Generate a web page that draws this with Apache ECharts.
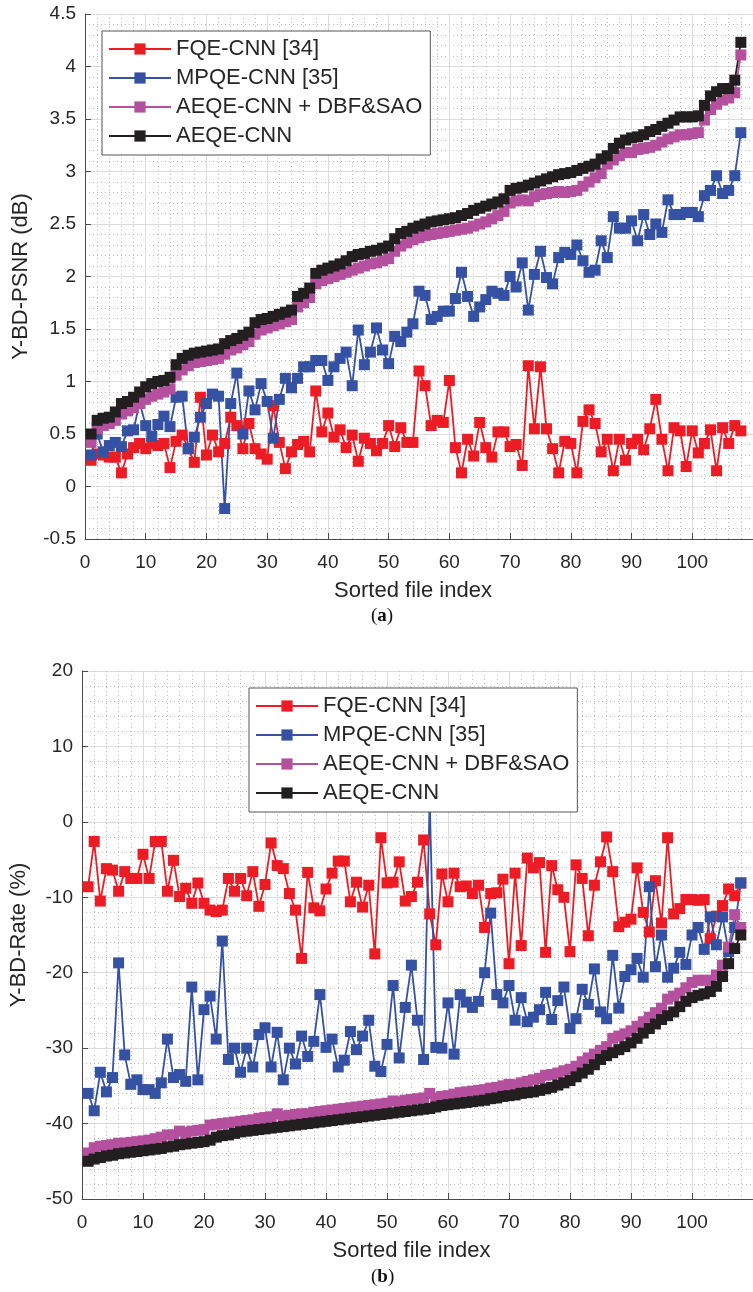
<!DOCTYPE html>
<html>
<head>
<meta charset="utf-8">
<script src="https://cdn.jsdelivr.net/npm/echarts@6/dist/echarts.min.js"></script>
<style>
  html, body { margin: 0; padding: 0; background: #ffffff; }
  #chart { width: 753px; height: 1292px; }
</style>
</head>
<body>
<div id="chart"></div>
<script>
// Series names (shared by both panels)
const seriesNames = ['FQE-CNN [34]', 'MPQE-CNN [35]', 'AEQE-CNN + DBF&SAO', 'AEQE-CNN'];

// (a) Y-BD-PSNR (dB) per sorted file index 1..108
const fqePsnr = [
  0.25,0.31,0.30,0.28,0.28,0.13,0.31,0.37,0.41,0.36,
  0.41,0.39,0.41,0.18,0.43,0.49,0.36,0.23,0.85,0.30,
  0.49,0.33,0.41,0.66,0.58,0.36,0.60,0.36,0.31,0.26,
  0.77,0.42,0.17,0.33,0.40,0.43,0.33,0.91,0.52,0.70,
  0.47,0.54,0.37,0.49,0.24,0.46,0.41,0.34,0.41,0.58,
  0.38,0.56,0.42,0.42,1.10,0.96,0.58,0.63,0.61,1.01,
  0.37,0.13,0.45,0.29,0.61,0.37,0.28,0.52,0.52,0.38,
  0.40,0.20,1.15,0.55,1.14,0.55,0.36,0.13,0.43,0.41,
  0.13,0.62,0.73,0.60,0.33,0.45,0.15,0.45,0.25,0.41,
  0.45,0.35,0.55,0.83,0.45,0.15,0.56,0.53,0.19,0.53,
  0.32,0.41,0.54,0.15,0.56,0.41,0.58,0.53
];
const mpqePsnr = [
  0.30,0.50,0.33,0.39,0.42,0.38,0.53,0.54,0.80,0.58,
  0.48,0.59,0.67,0.57,0.85,0.86,0.36,0.47,0.66,0.79,
  0.88,0.86,-0.21,0.79,1.08,0.50,0.91,0.73,0.98,0.81,
  0.46,0.83,1.03,0.94,1.03,1.14,1.14,1.20,1.20,1.01,
  1.14,1.22,1.28,0.96,1.49,1.16,1.28,1.51,1.30,1.17,
  1.43,1.38,1.47,1.55,1.86,1.82,1.59,1.62,1.67,1.67,
  1.79,2.04,1.81,1.62,1.71,1.78,1.86,1.84,1.82,2.00,
  1.90,2.13,1.68,2.02,2.24,1.99,1.93,2.18,2.23,2.21,
  2.30,2.15,2.04,2.06,2.34,2.18,2.57,2.46,2.46,2.53,
  2.34,2.59,2.40,2.50,2.42,2.73,2.59,2.59,2.61,2.61,
  2.57,2.77,2.82,2.96,2.79,2.82,2.96,3.37
];
const aeqeDbfPsnr = [
  0.42,0.55,0.58,0.60,0.63,0.69,0.72,0.75,0.79,0.83,
  0.86,0.88,0.90,0.93,1.06,1.11,1.15,1.18,1.19,1.20,
  1.21,1.22,1.26,1.30,1.32,1.35,1.38,1.45,1.49,1.51,
  1.53,1.55,1.57,1.59,1.71,1.75,1.80,1.93,1.96,1.98,
  2.00,2.02,2.04,2.06,2.08,2.10,2.12,2.13,2.15,2.17,
  2.24,2.29,2.32,2.35,2.37,2.39,2.40,2.41,2.42,2.43,
  2.44,2.45,2.46,2.48,2.50,2.52,2.55,2.58,2.62,2.70,
  2.72,2.73,2.72,2.76,2.78,2.79,2.80,2.81,2.80,2.81,
  2.82,2.86,2.90,2.94,2.98,3.07,3.11,3.15,3.18,3.18,
  3.21,3.22,3.23,3.25,3.28,3.31,3.33,3.35,3.35,3.36,
  3.37,3.49,3.59,3.64,3.68,3.70,3.75,4.11
];
const aeqePsnr = [
  0.50,0.63,0.65,0.66,0.71,0.79,0.81,0.85,0.90,0.95,
  0.98,1.00,1.01,1.04,1.16,1.22,1.25,1.27,1.28,1.29,
  1.30,1.31,1.36,1.39,1.41,1.44,1.47,1.56,1.59,1.60,
  1.62,1.64,1.66,1.68,1.81,1.84,1.89,2.03,2.06,2.08,
  2.10,2.12,2.15,2.19,2.21,2.22,2.24,2.25,2.27,2.29,
  2.36,2.41,2.43,2.46,2.48,2.50,2.52,2.53,2.54,2.55,
  2.56,2.58,2.60,2.63,2.65,2.67,2.69,2.71,2.74,2.82,
  2.84,2.85,2.87,2.89,2.91,2.93,2.95,2.97,2.98,2.99,
  3.01,3.03,3.05,3.07,3.12,3.15,3.22,3.27,3.30,3.32,
  3.33,3.35,3.38,3.40,3.43,3.46,3.49,3.52,3.52,3.52,
  3.53,3.63,3.72,3.76,3.79,3.79,3.87,4.23
];

// (b) Y-BD-Rate (%) per sorted file index 1..108
const fqeRate = [
  -8.6,-2.6,-10.5,-6.2,-6.4,-9.2,-6.6,-7.5,-7.5,-4.3,
  -7.5,-2.6,-2.6,-9.2,-5.1,-9.9,-8.8,-10.8,-8.1,-10.8,
  -11.7,-11.9,-11.7,-7.5,-9.2,-7.5,-9.8,-6.6,-11.2,-8.3,
  -2.8,-5.8,-6.2,-9.5,-11.7,-18.1,-6.7,-11.4,-11.8,-8.9,
  -6.8,-5.2,-5.2,-10.6,-8.0,-11.3,-8.4,-17.5,-2.1,-8.1,
  -8.0,-5.3,-10.5,-9.9,-8.0,-2.4,-12.2,-16.3,-6.9,-10.6,
  -6.8,-8.6,-8.5,-9.5,-8.4,-14.0,-9.5,-9.4,-7.6,-18.8,
  -6.8,-16.4,-4.8,-6.1,-5.4,-17.3,-5.8,-9.0,-10.0,-17.2,
  -5.7,-7.5,-15.1,-8.4,-5.3,-2.0,-6.6,-13.9,-13.3,-12.9,
  -6.1,-12.0,-14.6,-7.8,-13.4,-2.1,-12.2,-11.5,-10.3,-10.3,
  -10.4,-10.3,-15.5,-12.5,-11.1,-8.9,-9.8,-8.1
];
const mpqeRate = [
  -36.0,-38.3,-33.2,-35.8,-33.9,-18.7,-30.9,-34.8,-34.2,-35.5,
  -35.5,-36.0,-34.6,-28.8,-33.9,-33.5,-34.4,-21.9,-34.2,-24.9,
  -23.1,-28.8,-15.8,-31.5,-30.0,-33.2,-30.0,-32.5,-28.2,-27.3,
  -32.5,-27.9,-34.2,-30.0,-32.1,-28.4,-31.1,-29.1,-22.9,-29.9,
  -28.8,-32.5,-31.6,-27.8,-30.2,-28.4,-26.3,-32.4,-33.1,-29.5,
  -21.7,-31.3,-24.6,-19.0,-26.3,-31.5,3.0,-29.9,-30.0,-24.0,
  -30.8,-22.9,-23.9,-24.6,-23.8,-20.0,-12.1,-22.9,-24.0,-21.7,
  -26.3,-23.3,-26.5,-25.9,-24.9,-22.6,-26.2,-23.7,-21.9,-27.4,
  -26.1,-22.2,-24.2,-19.5,-25.2,-26.1,-17.7,-24.7,-20.5,-19.6,
  -18.1,-20.6,-8.6,-19.2,-15.0,-20.6,-19.4,-17.3,-18.9,-15.0,
  -14.0,-16.9,-12.6,-16.3,-12.6,-17.2,-14.0,-8.1
];
const aeqeDbfRate = [
  -43.9,-43.2,-43.0,-42.9,-42.8,-42.6,-42.6,-42.5,-42.4,-42.3,
  -42.2,-42.0,-41.8,-41.5,-41.5,-41.0,-41.2,-41.0,-40.9,-40.8,
  -40.2,-40.1,-40.0,-39.9,-39.8,-39.7,-39.6,-39.5,-39.3,-39.2,
  -39.1,-38.7,-39.0,-38.9,-38.8,-38.7,-38.7,-38.5,-38.4,-38.3,
  -38.2,-38.1,-38.0,-37.9,-37.8,-37.7,-37.6,-37.5,-37.4,-37.3,
  -37.0,-37.1,-36.9,-36.8,-36.7,-36.6,-36.0,-36.6,-36.4,-36.3,
  -36.1,-35.9,-35.8,-35.7,-35.6,-35.5,-35.3,-35.2,-35.0,-34.8,
  -34.9,-34.6,-34.4,-34.2,-34.0,-33.6,-33.5,-33.3,-33.0,-32.8,
  -32.4,-31.8,-31.3,-30.8,-30.3,-29.8,-28.7,-28.4,-28.1,-27.7,
  -27.1,-26.5,-25.9,-25.3,-24.7,-23.5,-23.1,-22.7,-22.0,-21.3,
  -21.0,-21.0,-21.0,-20.3,-19.0,-16.6,-12.3,-14.0
];
const aeqeRate = [
  -45.0,-44.7,-44.5,-44.3,-44.2,-44.0,-43.9,-43.8,-43.7,-43.6,
  -43.5,-43.4,-43.3,-43.1,-43.0,-42.8,-42.7,-42.6,-42.5,-42.4,
  -42.2,-41.8,-41.6,-41.5,-41.3,-41.1,-41.0,-40.9,-40.8,-40.7,
  -40.6,-40.5,-40.4,-40.3,-40.2,-40.1,-40.0,-39.9,-39.8,-39.7,
  -39.6,-39.5,-39.4,-39.3,-39.2,-39.1,-39.0,-38.9,-38.8,-38.7,
  -38.6,-38.5,-38.4,-38.3,-38.2,-38.1,-38.0,-37.8,-37.6,-37.5,
  -37.4,-37.3,-37.2,-37.1,-37.0,-36.9,-36.7,-36.6,-36.4,-36.3,
  -36.2,-36.0,-35.9,-35.8,-35.6,-35.4,-35.2,-34.9,-34.6,-34.3,
  -33.8,-33.3,-32.8,-32.2,-31.5,-31.0,-30.6,-30.2,-29.8,-29.3,
  -28.7,-28.0,-27.4,-26.8,-26.2,-25.7,-25.2,-24.5,-23.8,-23.3,
  -23.0,-22.8,-22.5,-21.8,-20.5,-18.8,-16.8,-15.0
];

// Axis tick settings
const xTicks = { min: 0, max: 110, interval: 10 };
const psnrTicks = { min: -0.5, max: 4.5, interval: 0.5 };
const rateTicks = { min: -50, max: 20, interval: 10 };

const colors = ['#ED1C24', '#3451A3', '#B5509E', '#231F20'];
const FONT = '"Liberation Sans", Arial, Helvetica, sans-serif';
const TEXT = '#262626';

function lineSeries(name, values, color, axisIdx) {
  return {
    type: 'line',
    name: name,
    xAxisIndex: axisIdx,
    yAxisIndex: axisIdx,
    data: values.map((v, k) => [k + 1, v]),
    symbol: 'rect',
    symbolSize: 11,
    showSymbol: true,
    lineStyle: { color: color, width: 1.8 },
    itemStyle: { color: color },
    emphasis: { disabled: true },
    animation: false
  };
}

function xAxisCfg(gridIndex) {
  return {
    type: 'value', gridIndex: gridIndex,
    min: xTicks.min, max: xTicks.max, interval: xTicks.interval,
    name: 'Sorted file index', nameLocation: 'middle', nameGap: 41,
    nameTextStyle: { fontFamily: FONT, fontSize: 22, color: TEXT, padding: [0, 12, 0, 0] },
    axisLine: { show: true, onZero: false, lineStyle: { color: '#4a4a4a', width: 1 } },
    axisTick: { show: true, inside: true, length: 6, lineStyle: { color: '#4a4a4a' } },
    axisLabel: { fontFamily: FONT, fontSize: 19, color: TEXT, margin: 14, showMaxLabel: false },
    splitLine: { show: true, lineStyle: { color: '#dcdcdc', width: 1 } },
    minorTick: { show: false, splitNumber: 5 },
    minorSplitLine: { show: true, lineStyle: { color: '#bdbdbd', width: 1, type: [1, 3] } }
  };
}

function yAxisCfg(gridIndex, ticks, title) {
  return {
    type: 'value', gridIndex: gridIndex,
    min: ticks.min, max: ticks.max, interval: ticks.interval,
    name: title, nameLocation: 'middle', nameGap: 52, nameRotate: 90,
    nameTextStyle: { fontFamily: FONT, fontSize: 22, color: TEXT },
    axisLine: { show: true, onZero: false, lineStyle: { color: '#4a4a4a', width: 1 } },
    axisTick: { show: true, inside: true, length: 6, lineStyle: { color: '#4a4a4a' } },
    axisLabel: { fontFamily: FONT, fontSize: 19, color: TEXT, margin: 9 },
    splitLine: { show: true, lineStyle: { color: '#dcdcdc', width: 1 } },
    minorTick: { show: false, splitNumber: 5 },
    minorSplitLine: { show: true, lineStyle: { color: '#bdbdbd', width: 1, type: [1, 3] } }
  };
}

function legendCfg(left, top) {
  return {
    data: seriesNames,
    orient: 'vertical',
    left: left, top: top,
    backgroundColor: '#ffffff',
    borderColor: '#555555', borderWidth: 1, borderRadius: 0,
    padding: [7, 8, 8, 6],
    itemGap: 7,
    itemWidth: 62, itemHeight: 14,
    selectedMode: false,
    textStyle: { fontFamily: FONT, fontSize: 22, color: TEXT, lineHeight: 20 },
    z: 10
  };
}

const chart = echarts.init(document.getElementById('chart'), null, { renderer: 'canvas' });

const option = {
  backgroundColor: '#ffffff',
  animation: false,
  color: colors,
  grid: [
    { left: 85, top: 14, width: 671, height: 525 },
    { left: 82, top: 671, width: 673, height: 528 }
  ],
  xAxis: [xAxisCfg(0), xAxisCfg(1)],
  yAxis: [
    yAxisCfg(0, psnrTicks, 'Y-BD-PSNR (dB)'),
    yAxisCfg(1, rateTicks, 'Y-BD-Rate (%)')
  ],
  legend: [legendCfg(102, 31), legendCfg(249, 688)],
  series: [
    lineSeries(seriesNames[0], fqePsnr, colors[0], 0),
    lineSeries(seriesNames[1], mpqePsnr, colors[1], 0),
    lineSeries(seriesNames[2], aeqeDbfPsnr, colors[2], 0),
    lineSeries(seriesNames[3], aeqePsnr, colors[3], 0),
    lineSeries(seriesNames[0], fqeRate, colors[0], 1),
    lineSeries(seriesNames[1], mpqeRate, colors[1], 1),
    lineSeries(seriesNames[2], aeqeDbfRate, colors[2], 1),
    lineSeries(seriesNames[3], aeqeRate, colors[3], 1)
  ],
  graphic: [
    {
      type: 'text', left: 371, top: 607,
      style: {
        text: '({b|a})',
        font: '19px "Liberation Serif", "Times New Roman", serif',
        fill: '#111111',
        rich: { b: { fontWeight: 'bold', fontFamily: '"Liberation Serif", serif', fontSize: 19, fill: '#111111' } }
      }
    },
    {
      type: 'text', left: 371, top: 1268,
      style: {
        text: '({b|b})',
        font: '19px "Liberation Serif", "Times New Roman", serif',
        fill: '#111111',
        rich: { b: { fontWeight: 'bold', fontFamily: '"Liberation Serif", serif', fontSize: 19, fill: '#111111' } }
      }
    }
  ]
};

chart.setOption(option);
</script>
</body>
</html>
